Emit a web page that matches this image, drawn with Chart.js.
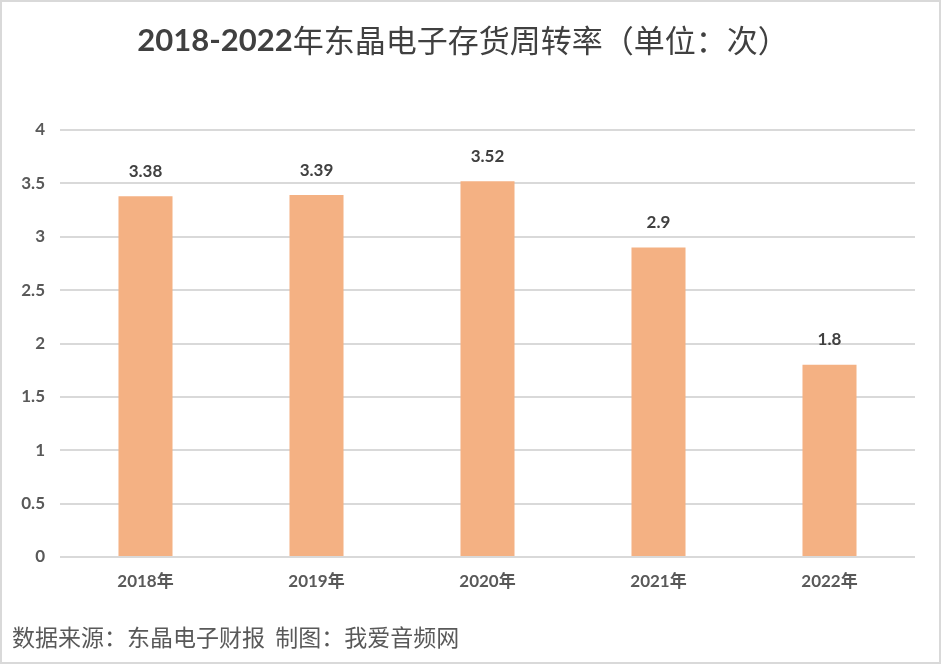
<!DOCTYPE html>
<html>
<head>
<meta charset="utf-8">
<script src="https://cdn.jsdelivr.net/npm/chart.js@4"></script>
<style>
body { margin: 0; background: #fff; }
canvas { display: block; }
</style>
</head>
<body>
<canvas id="myBarChart" width="941" height="664"></canvas>
<script>
// 东晶电子存货周转率 2018-2022
var years = ["2018年", "2019年", "2020年", "2021年", "2022年"];
var turnover = [3.38, 3.39, 3.52, 2.9, 1.8];
var yTicks = [0, 0.5, 1, 1.5, 2, 2.5, 3, 3.5, 4];

var LATIN = "Lato, 'Noto Sans CJK SC', sans-serif";
var CJK = "'Noto Sans CJK SC', sans-serif";

// title, footer, frame and value labels
var decorPlugin = {
    id: "decor",
    afterDraw: function(chart) {
        var ctx = chart.ctx;
        ctx.save();
        // frame
        ctx.strokeStyle = "#d9d9d9";
        ctx.lineWidth = 2;
        ctx.strokeRect(1, 1, chart.width - 2, chart.height - 2);

        // title: bold digits + regular chinese
        var part1 = "2018-2022";
        var part2 = "年东晶电子存货周转率（单位：次）";
        ctx.textBaseline = "middle";
        ctx.fillStyle = "#404040";
        ctx.font = "bold 31px " + LATIN;
        var w1 = ctx.measureText(part1).width;
        ctx.font = "31px " + CJK;
        var w2 = ctx.measureText(part2).width;
        var x0 = 463 - (w1 + w2) / 2;
        ctx.font = "bold 31px " + LATIN;
        ctx.textAlign = "left";
        ctx.fillText(part1, x0, 41);
        ctx.font = "31px " + CJK;
        ctx.fillText(part2, x0 + w1, 40);

        // footer
        ctx.font = "23px " + CJK;
        ctx.fillStyle = "#595959";
        ctx.fillText("数据来源：东晶电子财报  制图：我爱音频网", 12, 637);

        // value labels
        ctx.font = "bold 17px " + LATIN;
        ctx.fillStyle = "#404040";
        ctx.textAlign = "center";
        var meta = chart.getDatasetMeta(0);
        meta.data.forEach(function(bar, i) {
            ctx.fillText(String(turnover[i]), bar.x, bar.y - 25);
        });
        ctx.restore();
    }
};

var ctx = document.getElementById("myBarChart").getContext("2d");
var myBarChart = new Chart(ctx, {
    type: "bar",
    data: {
        labels: years,
        datasets: [{
            data: turnover,
            backgroundColor: "#F4B183",
            borderWidth: 0,
            categoryPercentage: 1,
            barPercentage: 0.316
        }]
    },
    plugins: [decorPlugin],
    options: {
        responsive: false,
        animation: false,
        layout: { padding: { top: 130, right: 26, bottom: 57, left: 0 } },
        plugins: {
            legend: { display: false },
            tooltip: { enabled: false }
        },
        scales: {
            x: {
                grid: { display: false, drawTicks: false },
                border: { display: false },
                ticks: {
                    padding: 14,
                    color: "#595959",
                    font: { family: LATIN, size: 17, weight: "bold" }
                },
                afterFit: function(s) { s.height = 50; }
            },
            y: {
                min: 0,
                max: 4,
                afterBuildTicks: function(s) {
                    s.ticks = yTicks.map(function(v) { return { value: v }; });
                },
                grid: { color: "#d9d9d9", lineWidth: 2, drawTicks: false },
                border: { display: false },
                ticks: {
                    padding: 15,
                    color: "#595959",
                    font: { family: LATIN, size: 17, weight: "bold" },
                    callback: function(v) { return String(v); }
                },
                afterFit: function(s) { s.width = 60; }
            }
        }
    }
});
</script>
</body>
</html>
